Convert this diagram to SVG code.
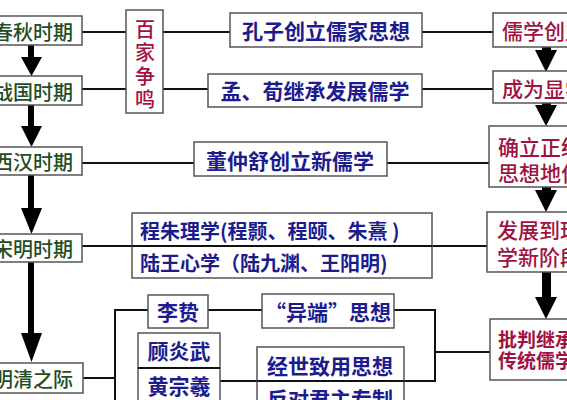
<svg xmlns="http://www.w3.org/2000/svg" width="567" height="400" viewBox="0 0 567 400">
<style>
.box{fill:#fff;stroke:#555;stroke-width:1.5}
.ln{stroke:#111;stroke-width:2;fill:none}
.arr{fill:#000}
text{font-family:"Noto Sans CJK SC","Noto Sans",sans-serif;dominant-baseline:central}
.g{fill:#234d23;font-size:20px;text-anchor:end;font-weight:500}
.b{fill:#1c1c8e;font-size:21px;font-weight:bold;text-anchor:middle}
.bl{fill:#1c1c8e;font-size:20px;font-weight:bold}
.r{fill:#a0123f;font-size:21px;font-weight:500}
.rs{fill:#a0123f;font-size:19px;font-weight:bold}
.rv{fill:#a0123f;font-size:20px;text-anchor:middle;font-weight:500}
</style>
<rect width="567" height="400" fill="#fff"/>
<g id="connectors">
<line class="ln" x1="82" y1="32" x2="230" y2="32"/>
<line class="ln" x1="422" y1="32" x2="494" y2="32"/>
<line class="ln" x1="82" y1="89" x2="208" y2="89"/>
<line class="ln" x1="422" y1="89" x2="494" y2="89"/>
<line class="ln" x1="82" y1="163" x2="489" y2="163"/>
<line class="ln" x1="82" y1="246" x2="488" y2="246"/>
<line class="ln" x1="82" y1="378" x2="115" y2="378"/>
<polyline class="ln" points="148,310 115,310 115,400"/>
<line class="ln" x1="208" y1="310" x2="262" y2="310"/>
<polyline class="ln" points="394,310 435,310 435,381 220,381"/>
<line class="ln" x1="435" y1="352" x2="490" y2="352"/>
<polygon class="arr" points="28,45 34,45 34,57 42,57 31.5,76 21,57 28,57"/>
<polygon class="arr" points="28,105 34,105 34,126 42,126 31.5,147 21,126 28,126"/>
<polygon class="arr" points="28,175 34,175 34,208 42,208 31.5,234 21,208 28,208"/>
<polygon class="arr" points="28,262 34,262 34,333 42,333 31.5,362 21,333 28,333"/>
<polygon class="arr" points="542,47 551,47 551,50 557,50 546,72 535,50 542,50"/>
<polygon class="arr" points="542,102 551,102 551,105 557,105 546,126 535,105 542,105"/>
<polygon class="arr" points="542,187 551,187 551,190 557,190 546,212 535,190 542,190"/>
<polygon class="arr" points="542,272 551,272 551,297 557,297 546,319 535,297 542,297"/>
</g>
<g id="chunqiu"><rect class="box" x="-10" y="16" width="92" height="29"/><text class="g" x="73" y="31">春秋时期</text></g>
<g id="zhanguo"><rect class="box" x="-10" y="76" width="92" height="29"/><text class="g" x="73" y="91">战国时期</text></g>
<g id="xihan"><rect class="box" x="-10" y="147" width="92" height="28"/><text class="g" x="73" y="161">西汉时期</text></g>
<g id="songming"><rect class="box" x="-10" y="234" width="92" height="28"/><text class="g" x="73" y="248">宋明时期</text></g>
<g id="mingqing"><rect class="box" x="-10" y="363" width="93" height="30"/><text class="g" x="73" y="378">明清之际</text></g>
<g id="baijia"><rect class="box" x="126" y="10" width="37" height="103"/>
<text class="rv" x="145" y="28">百</text><text class="rv" x="145" y="51.5">家</text><text class="rv" x="145" y="75">争</text><text class="rv" x="145" y="98.5">鸣</text></g>
<g id="kongzi"><rect class="box" x="230" y="13" width="192" height="34"/><text class="b" x="326" y="30">孔子创立儒家思想</text></g>
<g id="mengxun"><rect class="box" x="208" y="74" width="214" height="33"/><text class="b" x="315" y="90">孟、荀继承发展儒学</text></g>
<g id="dong"><rect class="box" x="194" y="142" width="193" height="34"/><text class="b" x="290" y="160">董仲舒创立新儒学</text></g>
<g id="chengzhu"><rect class="box" x="132" y="213" width="300" height="65"/><line class="ln" x1="132" y1="246" x2="432" y2="246"/>
<text class="bl" x="140" y="230">程朱理学(程颢、程颐、朱熹 )</text>
<text class="bl" x="140" y="262">陆王心学（陆九渊、王阳明)</text></g>
<g id="lizhi"><rect class="box" x="148" y="295" width="60" height="33"/><text class="b" x="178" y="311">李贽</text></g>
<g id="yiduan"><rect class="box" x="262" y="294" width="132" height="34"/><text class="b" x="328" y="311">“异端”思想</text></g>
<g id="guhuang"><rect class="box" x="138" y="333" width="82" height="80"/><line class="ln" x1="138" y1="368" x2="220" y2="368"/>
<text class="b" x="179" y="350">顾炎武</text><text class="b" x="179" y="385">黄宗羲</text></g>
<g id="jingshi"><rect class="box" x="257" y="347" width="147" height="70"/><line class="ln" x1="257" y1="381" x2="404" y2="381"/>
<text class="b" x="330" y="365">经世致用思想</text><text class="b" x="330" y="398">反对君主专制</text></g>
<g id="rujia"><rect class="box" x="493" y="13" width="90" height="34"/><text class="r" x="502" y="30">儒学创立</text></g>
<g id="xianxue"><rect class="box" x="493" y="71" width="90" height="32"/><text class="r" x="502" y="88">成为显学</text></g>
<g id="zhengtong"><rect class="box" x="489" y="126" width="95" height="61"/><text class="r" x="498" y="146">确立正统</text><text class="r" x="498" y="172">思想地位</text></g>
<g id="lixue"><rect class="box" x="487" y="212" width="95" height="60"/><text class="r" x="497" y="229">发展到理</text><text class="r" x="497" y="256">学新阶段</text></g>
<g id="pipan"><rect class="box" x="490" y="319" width="95" height="61"/><text class="rs" x="498" y="338">批判继承</text><text class="rs" x="498" y="359">传统儒学</text></g>
</svg>
